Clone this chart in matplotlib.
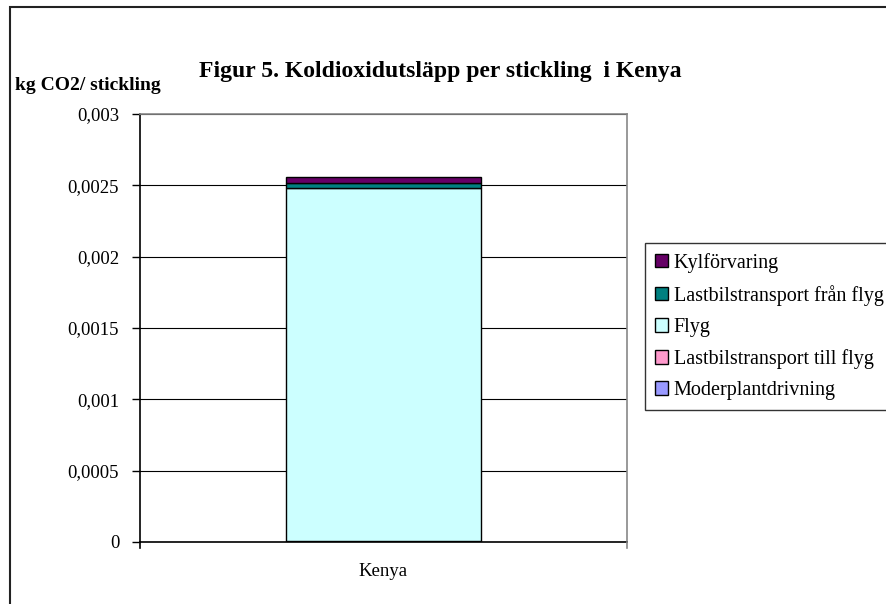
import matplotlib
matplotlib.use("Agg")
import matplotlib.pyplot as plt
from matplotlib.patches import Rectangle
from matplotlib.ticker import FuncFormatter, MultipleLocator

plt.rcParams['font.family'] = ['Liberation Serif', 'DejaVu Serif']

categories = ["Kenya"]
series_names = ["Moderplantdrivning", "Lastbilstransport till flyg", "Flyg",
                "Lastbilstransport från flyg", "Kylförvaring"]
series_values = {
    "Moderplantdrivning": [0.000002],
    "Lastbilstransport till flyg": [0.000002],
    "Flyg": [0.00248],
    "Lastbilstransport från flyg": [0.00003],
    "Kylförvaring": [0.000042],
}
colors = {
    "Moderplantdrivning": "#9999FF",
    "Lastbilstransport till flyg": "#FF99CC",
    "Flyg": "#CCFFFF",
    "Lastbilstransport från flyg": "#008080",
    "Kylförvaring": "#660066",
}

W, H = 886, 604
fig = plt.figure(figsize=(W / 100, H / 100), dpi=100)

# outer chart border
fig.patches.append(Rectangle((10 / W, -0.05), 1.0, 1 - 7 / H + 0.05,
                             transform=fig.transFigure, fill=False,
                             edgecolor="#222222", linewidth=1.5))

ax = fig.add_axes([140 / W, (H - 542) / H, 487 / W, 428 / H])

x = list(range(len(categories)))
bottom = [0.0] * len(categories)
handles = []
for name in series_names:
    vals = series_values[name]
    b = ax.bar(x, vals, width=0.4, bottom=bottom, color=colors[name],
               edgecolor="black", linewidth=1.0, label=name, zorder=3)
    handles.append(b)
    bottom = [bb + v for bb, v in zip(bottom, vals)]

ax.set_xlim(-0.5, 0.5)
ax.set_ylim(0, 0.003)
ax.yaxis.set_major_locator(MultipleLocator(0.0005))
ax.yaxis.set_major_formatter(FuncFormatter(lambda v, p: f"{v:g}".replace(".", ",")))
ax.yaxis.grid(True, color="black", linewidth=0.8, zorder=0)
ax.set_axisbelow(True)

ax.set_xticks(x)
ax.set_xticklabels(categories, fontsize=13.5)
ax.tick_params(axis="x", length=0, pad=15)
ax.tick_params(axis="y", labelsize=13.5, length=6, width=1, direction="out", pad=9)

for s in ["top", "right"]:
    ax.spines[s].set_color("#888888")
    ax.spines[s].set_linewidth(1.2)
for s in ["left", "bottom"]:
    ax.spines[s].set_color("black")
    ax.spines[s].set_linewidth(1.2)

# category boundary ticks on x axis
for xb in [-0.5, 0.5]:
    ax.plot([xb, xb], [0, -0.00004], color="#888888" if xb > 0 else "black",
            linewidth=1.2, clip_on=False, zorder=5)

fig.text(440 / W, 1 - 72 / H, "Figur 5. Koldioxidutsläpp per stickling  i Kenya",
         ha="center", va="center", fontsize=17, fontweight="bold")
fig.text(15 / W, 1 - 86 / H, "kg CO2/ stickling", ha="left", va="center",
         fontsize=14, fontweight="bold")

leg = fig.legend(handles[::-1], series_names[::-1], loc="upper left",
                 bbox_to_anchor=(645 / W, 1 - 243 / H), fontsize=14.5,
                 frameon=True, fancybox=False, shadow=False,
                 handlelength=0.63, handleheight=0.63, handletextpad=0.3,
                 labelspacing=0.6, borderpad=0.5, borderaxespad=0)
leg.get_frame().set_edgecolor("black")
leg.get_frame().set_linewidth(1.0)

fig.savefig("out.png", dpi=100)
